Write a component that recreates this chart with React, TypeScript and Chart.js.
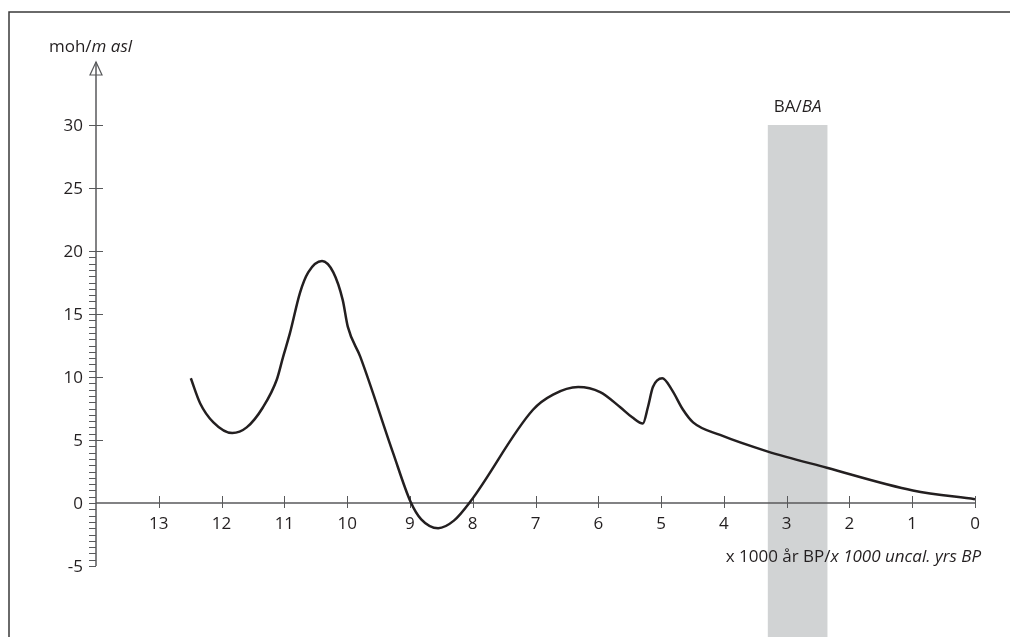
import React, { useEffect, useRef } from 'react';
import { Chart, registerables } from 'chart.js';

Chart.register(...registerables);

// Age in thousands of (uncal.) years BP
const ageKa = [
  12.49, 12.34, 12.13, 11.83, 11.6, 11.34, 11.12, 11.02, 10.91, 10.75, 10.62, 10.4,
  10.22, 10.07, 9.99, 9.79, 9.27, 8.99, 8.82, 8.55, 8.3, 8.04,
  7.04, 6.72, 6.32, 5.97, 5.65, 5.46, 5.29, 5.21, 5.13, 4.98, 4.83,
  4.65, 4.49, 4.06, 3.31, 2.36, 0.99, 0.0,
];
// Relative sea level, m asl
const elevation = [
  9.9, 7.9, 6.4, 5.55, 6.0, 7.6, 9.8, 11.6, 13.5, 16.7, 18.3, 19.2,
  18.3, 16.1, 14.0, 11.6, 4.0, 0.1, -1.3, -2.0, -1.4, 0.1,
  7.4, 8.6, 9.2, 8.8, 7.6, 6.8, 6.3, 7.6, 9.2, 9.9, 9.0,
  7.4, 6.4, 5.4, 4.1, 2.8, 1.0, 0.3,
];

const xTicks = [13, 12, 11, 10, 9, 8, 7, 6, 5, 4, 3, 2, 1, 0];
const yTickLabels = [-5, 0, 5, 10, 15, 20, 25, 30];
const yMajorTicks = [5, 10, 15, 20, 25, 30];
const yMinorRange = [-5, 20];
const yMinorStep = 0.5;
const xRange = [0, 14];
const yRange = [-5, 35];
const baBand = [3.3, 2.35];
const baTop = 30;
const baLabel = ['BA/', 'BA'];
const yTitle = ['moh/', 'm asl'];
const xTitle = ['x 1000 år BP/', 'x 1000 uncal. yrs BP'];

const FONT = '"Open Sans", "Noto Sans", sans-serif';
const FONT_SIZE = 17;
const TEXT = '#231f20';
const AXIS = '#58595b';

function drawMixed(ctx: CanvasRenderingContext2D, parts: string[], x: number, y: number, align: 'left' | 'center' | 'right', size: number) {
  const reg = `${size}px ${FONT}`;
  const ita = `italic ${size}px ${FONT}`;
  ctx.font = reg;
  const w1 = ctx.measureText(parts[0]).width;
  ctx.font = ita;
  const w2 = ctx.measureText(parts[1]).width;
  const total = w1 + w2;
  let start = x;
  if (align === 'center') start = x - total / 2;
  if (align === 'right') start = x - total;
  ctx.textAlign = 'left';
  ctx.textBaseline = 'alphabetic';
  ctx.fillStyle = TEXT;
  ctx.font = reg;
  ctx.fillText(parts[0], start, y);
  ctx.font = ita;
  ctx.fillText(parts[1], start + w1, y);
}

const axesPlugin = {
  id: 'customAxes',
  beforeDatasetsDraw(chart: any) {
    const ctx: CanvasRenderingContext2D = chart.ctx;
    const xs = chart.scales.x;
    const ys = chart.scales.y;
    ctx.save();
    // frame
    ctx.strokeStyle = '#3a3a3a';
    ctx.lineWidth = 1.5;
    ctx.beginPath();
    ctx.moveTo(9, chart.height);
    ctx.lineTo(9, 12);
    ctx.lineTo(chart.width, 12);
    ctx.stroke();

    // BA band
    const bx1 = xs.getPixelForValue(baBand[0]);
    const bx2 = xs.getPixelForValue(baBand[1]);
    const by = ys.getPixelForValue(baTop);
    ctx.fillStyle = '#d1d3d4';
    ctx.fillRect(bx1, by, bx2 - bx1, chart.height - by);

    const x0 = xs.getPixelForValue(xRange[1]);
    const y0 = ys.getPixelForValue(0);
    ctx.strokeStyle = AXIS;
    // y axis
    ctx.lineWidth = 1.5;
    ctx.beginPath();
    ctx.moveTo(x0, ys.getPixelForValue(yRange[0]));
    ctx.lineTo(x0, ys.getPixelForValue(yRange[1]));
    ctx.stroke();
    // arrow
    const tip = ys.getPixelForValue(yRange[1]);
    ctx.lineWidth = 1.2;
    ctx.beginPath();
    ctx.moveTo(x0, tip);
    ctx.lineTo(x0 - 6, tip + 13);
    ctx.lineTo(x0 + 6, tip + 13);
    ctx.closePath();
    ctx.stroke();
    // minor ticks
    ctx.lineWidth = 1;
    for (let v = yMinorRange[0]; v <= yMinorRange[1] + 1e-6; v += yMinorStep) {
      const py = Math.round(ys.getPixelForValue(v)) + 0.5;
      ctx.beginPath();
      ctx.moveTo(x0 - 7, py);
      ctx.lineTo(x0, py);
      ctx.stroke();
    }
    for (const v of yMajorTicks) {
      const py = Math.round(ys.getPixelForValue(v)) + 0.5;
      ctx.beginPath();
      ctx.moveTo(x0 - 7, py);
      ctx.lineTo(x0 + 7, py);
      ctx.stroke();
    }
    // x axis
    ctx.lineWidth = 1.5;
    ctx.beginPath();
    ctx.moveTo(x0, y0);
    ctx.lineTo(xs.getPixelForValue(0), y0);
    ctx.stroke();
    ctx.lineWidth = 1;
    for (const v of xTicks) {
      const px = Math.round(xs.getPixelForValue(v)) + 0.5;
      ctx.beginPath();
      ctx.moveTo(px, y0 - 7);
      ctx.lineTo(px, y0 + 5);
      ctx.stroke();
    }
    ctx.restore();
  },
  afterDraw(chart: any) {
    const ctx: CanvasRenderingContext2D = chart.ctx;
    const xs = chart.scales.x;
    const ys = chart.scales.y;
    const x0 = xs.getPixelForValue(xRange[1]);
    const y0 = ys.getPixelForValue(0);
    ctx.save();
    ctx.fillStyle = TEXT;
    ctx.font = `${FONT_SIZE}px ${FONT}`;
    ctx.textBaseline = 'alphabetic';
    ctx.textAlign = 'right';
    for (const v of yTickLabels) {
      ctx.fillText(String(v), x0 - 13, ys.getPixelForValue(v) + 6);
    }
    ctx.textAlign = 'center';
    for (const v of xTicks) {
      ctx.fillText(String(v), xs.getPixelForValue(v), y0 + 26);
    }
    drawMixed(ctx, yTitle, 90.5, 52, 'center', FONT_SIZE);
    drawMixed(ctx, baLabel, (xs.getPixelForValue(baBand[0]) + xs.getPixelForValue(baBand[1])) / 2, ys.getPixelForValue(baTop) - 13, 'center', FONT_SIZE);
    drawMixed(ctx, xTitle, 981, y0 + 59, 'right', FONT_SIZE);
    ctx.restore();
  },
};

export default function App() {
  const ref = useRef<HTMLCanvasElement | null>(null);
  useEffect(() => {
    document.body.style.margin = '0';
    document.body.style.overflow = 'hidden';
    if (!ref.current) return;
    const chart = new Chart(ref.current, {
      type: 'line',
      data: {
        datasets: [
          {
            data: ageKa.map((a, i) => ({ x: a, y: elevation[i] })),
            borderColor: '#231f20',
            borderWidth: 2.5,
            pointRadius: 0,
            fill: false,
            cubicInterpolationMode: 'monotone',
          },
        ],
      },
      options: {
        responsive: false,
        animation: false,
        layout: { padding: { left: 96, right: 35, top: 62, bottom: 71 } },
        scales: {
          x: { type: 'linear', min: xRange[0], max: xRange[1], reverse: true, display: false },
          y: { type: 'linear', min: yRange[0], max: yRange[1], display: false },
        },
        plugins: { legend: { display: false }, tooltip: { enabled: false } },
      },
      plugins: [axesPlugin],
    });
    return () => chart.destroy();
  }, []);
  return <canvas ref={ref} width={1010} height={637} style={{ display: 'block' }} />;
}
